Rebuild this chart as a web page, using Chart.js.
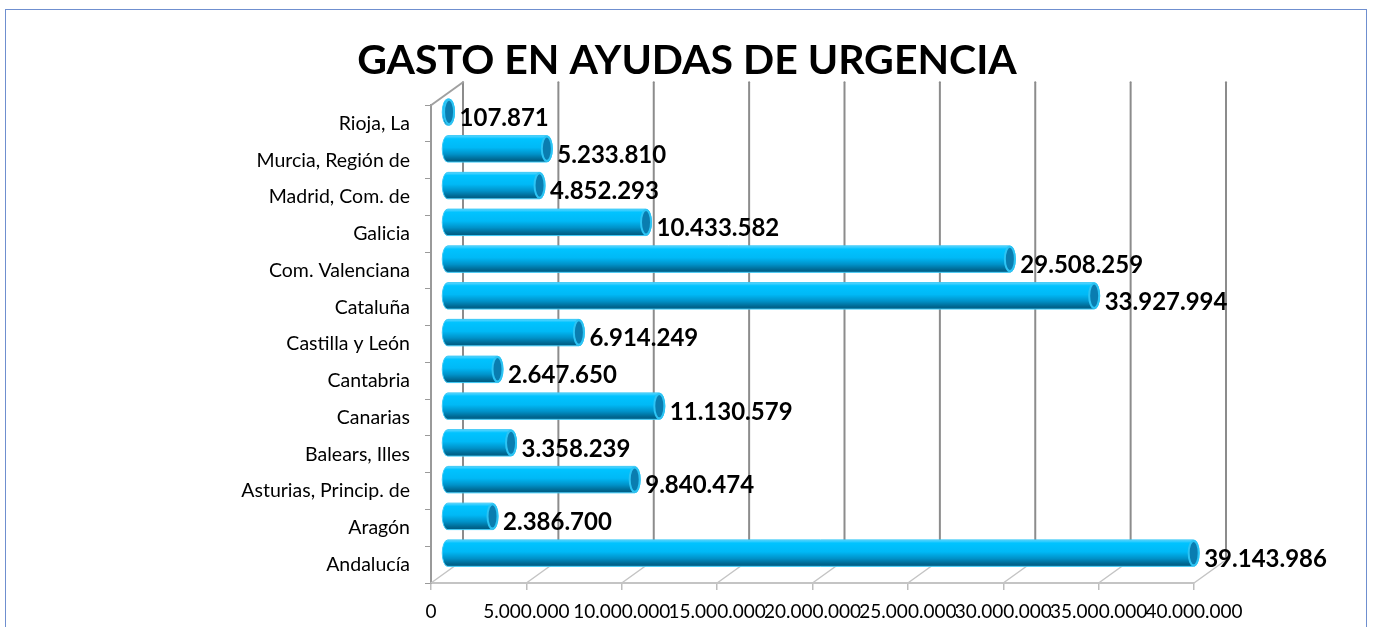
<!DOCTYPE html>
<html lang="es">
<head>
<meta charset="UTF-8">
<title>Gasto en ayudas de urgencia</title>
<script src="https://cdn.jsdelivr.net/npm/chart.js"></script>
<style>
  body { margin: 0; background: #fff; }
  #frame { position: absolute; left: 5px; top: 9px; width: 1360px; height: 640px; border: 1px solid #6f8fcf; }
  canvas { position: absolute; left: 0; top: 0; }
</style>
</head>
<body>
<div id="frame"></div>
<canvas id="chart" width="1373" height="627"></canvas>
<script>
const comunidades = ['Andalucía', 'Aragón', 'Asturias, Princip. de', 'Balears, Illes', 'Canarias', 'Cantabria',
  'Castilla y León', 'Cataluña', 'Com. Valenciana', 'Galicia', 'Madrid, Com. de', 'Murcia, Región de', 'Rioja, La'];
const gasto = [39143986, 2386700, 9840474, 3358239, 11130579, 2647650,
  6914249, 33927994, 29508259, 10433582, 4852293, 5233810, 107871];
const ejeMax = 40000000;
const ejePaso = 5000000;

// depth of the fake 3D box
const DX = 32, DY = -23;

function miles(v) {
  return String(Math.round(v)).replace(/\B(?=(\d{3})+(?!\d))/g, '.');
}

// back wall, floor and left wall edges
const paredes = {
  id: 'paredes',
  beforeDatasetsDraw(chart) {
    const ctx = chart.ctx, x = chart.scales.x, a = chart.chartArea;
    ctx.save();
    ctx.lineCap = 'round';
    for (let v = 0; v <= ejeMax; v += ejePaso) {
      const xf = x.getPixelForValue(v);
      ctx.strokeStyle = '#c4c4c4';
      ctx.lineWidth = 1.5;
      ctx.beginPath();
      ctx.moveTo(xf, a.bottom);
      ctx.lineTo(xf + DX, a.bottom + DY);
      ctx.stroke();
      ctx.strokeStyle = '#8c8c8c';
      ctx.lineWidth = 2;
      ctx.beginPath();
      ctx.moveTo(xf + DX, a.top + DY);
      ctx.lineTo(xf + DX, a.bottom + DY);
      ctx.stroke();
    }
    ctx.strokeStyle = '#a0a0a0';
    ctx.lineWidth = 2;
    ctx.beginPath();
    ctx.moveTo(a.left, a.top);
    ctx.lineTo(a.left + DX, a.top + DY);
    ctx.stroke();
    ctx.restore();
  }
};

// cylinders drawn on the bar geometry that Chart.js computed
const cilindros = {
  id: 'cilindros',
  afterDatasetsDraw(chart) {
    const ctx = chart.ctx;
    const meta = chart.getDatasetMeta(0);
    ctx.save();
    meta.data.forEach((el, i) => {
      const p = el.getProps(['x', 'y', 'base', 'height'], true);
      const h = p.height, cy = p.y + DY / 2;
      const x0 = p.base + DX / 2, x1 = p.x + DX / 2, rx = 5.5;
      const top = cy - h / 2, bot = cy + h / 2;

      const g = ctx.createLinearGradient(0, top, 0, bot);
      g.addColorStop(0, '#5fd6ff');
      g.addColorStop(0.12, '#00c3ff');
      g.addColorStop(0.45, '#00b9f6');
      g.addColorStop(0.7, '#0092c9');
      g.addColorStop(0.9, '#006892');
      g.addColorStop(1, '#005a80');

      ctx.beginPath();
      ctx.moveTo(x1, top);
      ctx.lineTo(x0, top);
      ctx.ellipse(x0, cy, rx, h / 2, 0, -Math.PI / 2, Math.PI / 2, true);
      ctx.lineTo(x1, bot);
      ctx.ellipse(x1, cy, rx, h / 2, 0, Math.PI / 2, -Math.PI / 2, true);
      ctx.closePath();
      ctx.fillStyle = g;
      ctx.fill();
      ctx.strokeStyle = '#3ccaf7';
      ctx.lineWidth = 1;
      ctx.stroke();

      // end cap
      ctx.beginPath();
      ctx.ellipse(x1, cy, rx - 0.5, h / 2 - 1, 0, 0, Math.PI * 2);
      ctx.fillStyle = '#0a7db0';
      ctx.fill();
      ctx.strokeStyle = '#2cc4f4';
      ctx.lineWidth = 2;
      ctx.stroke();

      ctx.fillStyle = '#000';
      ctx.font = 'bold 24px Lato';
      ctx.textAlign = 'left';
      ctx.textBaseline = 'middle';
      ctx.fillText(miles(gasto[i]), x1 + rx + 5, cy + 6);
    });
    ctx.restore();
  }
};

new Chart(document.getElementById('chart'), {
  type: 'bar',
  data: {
    labels: comunidades,
    datasets: [{
      data: gasto,
      backgroundColor: 'rgba(0,0,0,0)',
      borderWidth: 0,
      categoryPercentage: 1,
      barPercentage: 0.72
    }]
  },
  options: {
    indexAxis: 'y',
    responsive: false,
    animation: false,
    layout: { padding: { left: 180, right: 179, top: 0, bottom: 0 } },
    plugins: {
      legend: { display: false },
      tooltip: { enabled: false },
      title: {
        display: true,
        text: 'GASTO EN AYUDAS DE URGENCIA',
        color: '#000',
        font: { family: 'Lato', size: 41, weight: 'bold', lineHeight: 1.2 },
        padding: { top: 36, bottom: 20 }
      }
    },
    scales: {
      x: {
        min: 0,
        max: ejeMax,
        ticks: {
          stepSize: ejePaso,
          callback: v => miles(v),
          color: '#000',
          font: { family: 'Lato', size: 19 },
          padding: 10,
          minRotation: 0,
          maxRotation: 0,
          autoSkip: false
        },
        grid: { drawOnChartArea: false, tickLength: 7, color: '#bdbdbd', lineWidth: 1.5 },
        border: { color: '#c4c4c4', width: 2 },
        afterFit(s) { s.height = 44; }
      },
      y: {
        reverse: true,
        ticks: { color: '#000', font: { family: 'Lato', size: 19.5 }, padding: 15, autoSkip: false },
        grid: { drawOnChartArea: false, tickLength: 6, color: '#9a9a9a' },
        border: { color: '#9a9a9a', width: 2 },
        afterFit(s) { s.width = 251; }
      }
    }
  },
  plugins: [paredes, cilindros]
});
</script>
</body>
</html>
